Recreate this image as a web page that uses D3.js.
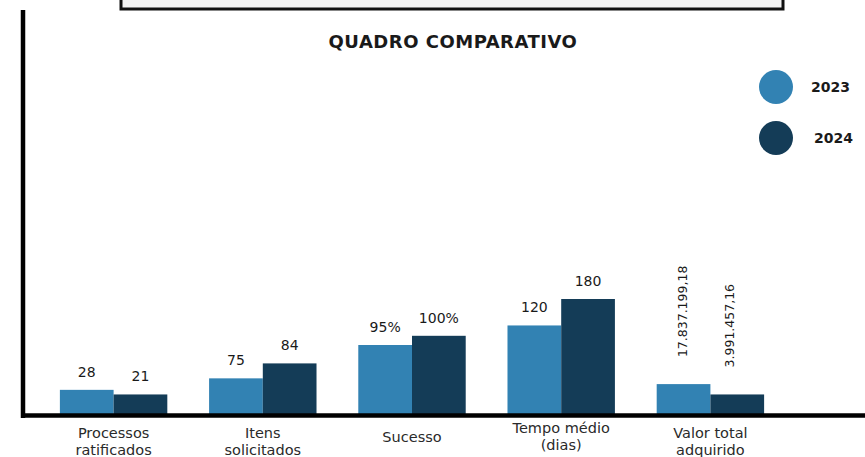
<!DOCTYPE html>
<html>
<meta charset="utf-8">
<head>
  <title>Quadro comparativo</title>
</head>

<style>
body {
  margin: 0;
  background: #fff;
}
text {
  font-family: "DejaVu Sans", sans-serif;
  fill: #1a1a1a;
}
.title {
  font-weight: bold;
  font-size: 18px;
  letter-spacing: 0.5px;
  text-anchor: middle;
}
.value {
  font-size: 14px;
  text-anchor: middle;
}
.cat {
  font-size: 14.5px;
  text-anchor: middle;
  fill: #2a2a2a;
}
.legend text {
  font-weight: bold;
  font-size: 14px;
}
</style>

<body>
  <div id="content">
    <svg width="865" height="457"></svg>
  </div>

  <script src="https://cdnjs.cloudflare.com/ajax/libs/d3/7.8.5/d3.min.js"></script>

  <script>
var width = 865, height = 457

// categories (line breaks as in the picture)
var categories = ['Processos\nratificados', 'Itens\nsolicitados', 'Sucesso', 'Tempo médio\n(dias)', 'Valor total\nadquirido']
var years = ['2023', '2024']

// printed values
var labels2023 = ['28', '75', '95%', '120', '17.837.199,18']
var labels2024 = ['21', '84', '100%', '180', '3.991.457,16']

// drawn bar level (infographic, not to scale), tallest bar = 100
var level2023 = [21, 31, 60, 77, 26]
var level2024 = [17, 44, 68, 100, 17]

var colors = {'2023': '#3282b3', '2024': '#143c57'}

var svg = d3.select('svg')
var baseY = 414

var x = d3.scaleBand()
  .domain(categories)
  .range([39, 785])
  .paddingInner(0.28)
  .paddingOuter(0.14)

var xSub = d3.scaleBand()
  .domain(years)
  .range([0, x.bandwidth()])

var y = d3.scaleLinear()
  .domain([0, 100])
  .range([baseY, baseY - 115])

var color = d3.scaleOrdinal().domain(years).range([colors['2023'], colors['2024']])

// cropped frame at the top
svg.append('rect')
  .attr('x', 121).attr('y', -12)
  .attr('width', 662).attr('height', 21)
  .attr('fill', '#f3f3f3')
  .attr('stroke', '#111')
  .attr('stroke-width', 3)

// title
svg.append('text')
  .attr('class', 'title')
  .attr('x', 453)
  .attr('y', 48)
  .text('QUADRO COMPARATIVO')

// build flat rows
var rows = []
categories.forEach(function(c, i) {
  rows.push({cat: c, year: '2023', level: level2023[i], label: labels2023[i], idx: i})
  rows.push({cat: c, year: '2024', level: level2024[i], label: labels2024[i], idx: i})
})

// bars
svg.append('g').attr('class', 'bars')
  .selectAll('rect')
  .data(rows)
  .enter()
  .append('rect')
  .attr('x', function(d) { return x(d.cat) + xSub(d.year) })
  .attr('y', function(d) { return y(d.level) })
  .attr('width', xSub.bandwidth())
  .attr('height', function(d) { return baseY - y(d.level) })
  .attr('fill', function(d) { return color(d.year) })

// value labels
var last = categories.length - 1
var vals = svg.append('g').attr('class', 'values')
vals.selectAll('text')
  .data(rows)
  .enter()
  .append('text')
  .attr('class', 'value')
  .each(function(d) {
    var cx = x(d.cat) + xSub(d.year) + xSub.bandwidth() / 2
    var t = d3.select(this)
    if (d.idx === last) {
      // long money values are written vertically
      t.attr('transform', 'translate(' + (cx - (d.year === '2024' ? 8 : 1)) + ',' + (y(d.level) - 27) + ') rotate(-90)')
        .attr('dy', '0.35em')
        .style('text-anchor', 'start')
        .style('font-size', '12.5px')
    } else {
      t.attr('x', cx).attr('y', y(d.level) - 13)
    }
    t.text(d.label)
  })

// axes lines
svg.append('line')
  .attr('x1', 23).attr('x2', 23)
  .attr('y1', 10).attr('y2', 418)
  .attr('stroke', '#000')
  .attr('stroke-width', 4.5)

svg.append('line')
  .attr('x1', 21).attr('x2', width)
  .attr('y1', baseY + 1.5).attr('y2', baseY + 1.5)
  .attr('stroke', '#000')
  .attr('stroke-width', 4.5)

// category labels
var cats = svg.append('g')
categories.forEach(function(c, i) {
  var lines = c.split('\n')
  var t = cats.append('text')
    .attr('class', 'cat')
    .attr('x', x(c) + x.bandwidth() / 2)
    .attr('y', lines.length > 1 ? (i === 3 ? 433 : 438) : 442)
  lines.forEach(function(l, j) {
    t.append('tspan')
      .attr('x', x(c) + x.bandwidth() / 2)
      .attr('dy', j === 0 ? 0 : 17)
      .text(l)
  })
})

// legend
var legend = svg.append('g').attr('class', 'legend')
  .selectAll('g')
  .data(years)
  .enter()
  .append('g')
  .attr('transform', function(d, i) { return 'translate(776,' + (87 + i * 51) + ')' })

legend.append('circle')
  .attr('r', 17)
  .attr('fill', function(d) { return color(d) })

legend.append('text')
  .attr('x', function(d, i) { return i === 0 ? 35 : 38 })
  .attr('dy', '0.35em')
  .text(function(d) { return d })
  </script>
</body>
</html>
